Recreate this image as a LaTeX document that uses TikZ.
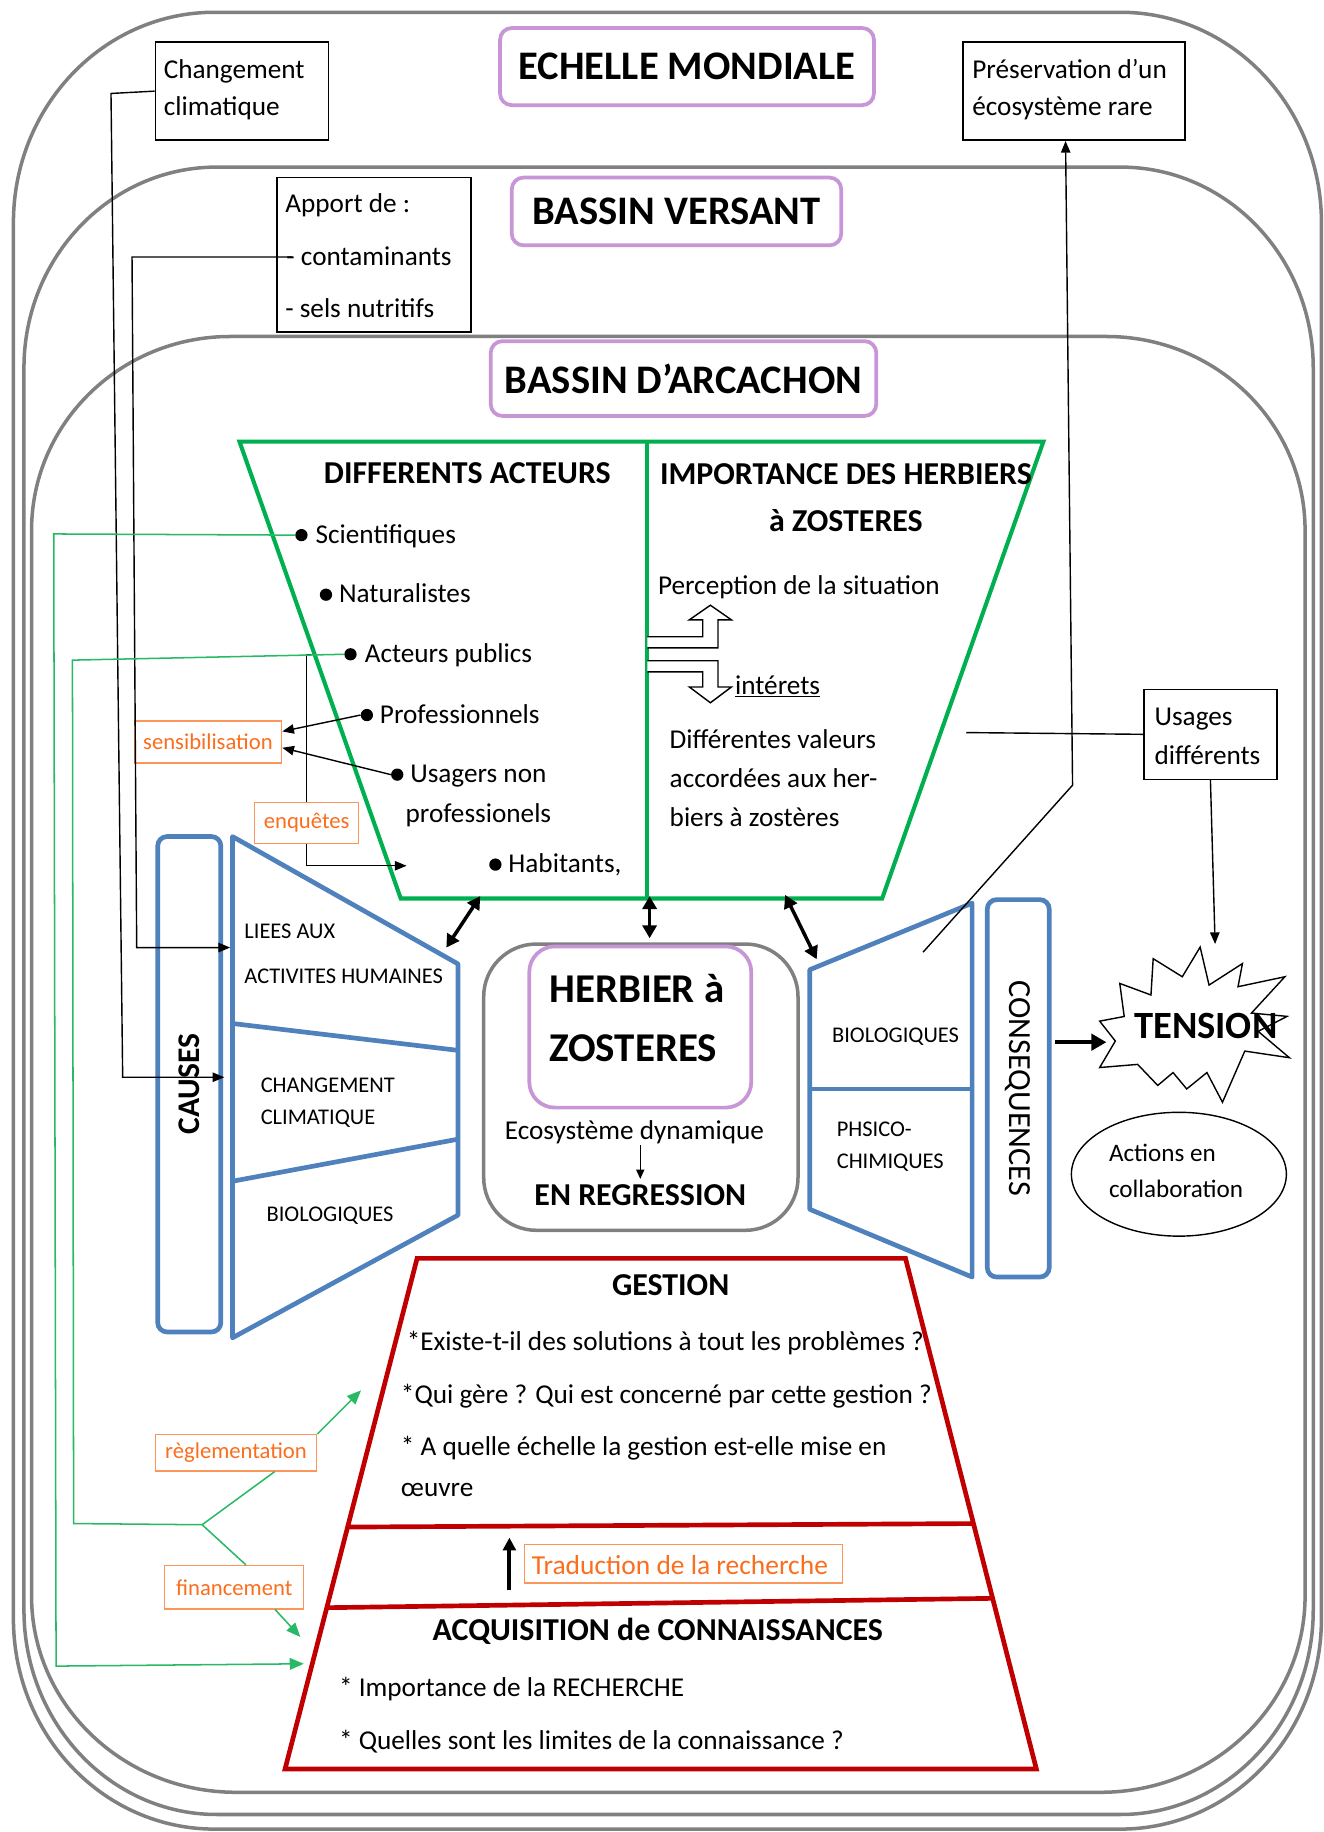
\documentclass[tikz,border=0pt]{standalone}
\usepackage{fontspec}
\setmainfont{Carlito}
\usetikzlibrary{arrows.meta,shapes.geometric,calc}
\definecolor{framegray}{RGB}{128,128,128}
\definecolor{titlepurple}{RGB}{200,150,215}
\definecolor{acgreen}{RGB}{0,176,80}
\definecolor{thingreen}{RGB}{40,185,100}
\definecolor{cblue}{RGB}{79,129,189}
\definecolor{gred}{RGB}{192,0,0}
\definecolor{orng}{RGB}{250,110,30}
\definecolor{orngbox}{RGB}{250,150,90}
\begin{document}
\begin{tikzpicture}[x=1pt,y=-1pt,
 gframe/.style={draw=framegray, line width=3pt},
 titlebox/.style={draw=titlepurple, line width=3.2pt, fill=white, rounded corners=10pt, font=\fontsize{34.7pt}{38pt}\selectfont\bfseries, inner sep=0pt},
 blackbox/.style={draw=black, line width=1.3pt, fill=white, inner sep=0pt},
 tbody/.style={font=\fontsize{23.3pt}{27pt}\selectfont, yshift=-7pt},
 tw/.style={inner sep=0pt, anchor=base west},
 tc/.style={inner sep=0pt, anchor=base},
 tsmall/.style={font=\fontsize{19.2pt}{22pt}\selectfont, yshift=-6.1pt},
 thead/.style={font=\fontsize{27.3pt}{30pt}\selectfont\bfseries, yshift=-8.7pt},
 tbig/.style={font=\fontsize{35pt}{38pt}\selectfont\bfseries, yshift=-11.2pt},
 olabel/.style={draw=orngbox, line width=1.2pt, text=orng, inner sep=0pt, font=\fontsize{19.4pt}{22pt}\selectfont},
 gline/.style={draw=thingreen, line width=1.3pt},
 garrow/.style={gline, -{Triangle[length=12pt,width=10pt]}},
 barrow/.style={draw=black, line width=1.2pt, -{Triangle[length=10pt,width=8pt]}},
 dblarrow/.style={draw=black, line width=3pt, {Triangle[length=11pt,width=12pt]}-{Triangle[length=11pt,width=12pt]}},
 bluel/.style={draw=cblue, line width=4pt, line join=round},
 redl/.style={draw=gred, line width=4pt},
 greenl/.style={draw=acgreen, line width=3.5pt},
 bullet/.style={circle, fill=black, inner sep=0pt, minimum size=10.5pt},
]
\useasboundingbox (0,0) rectangle (1133,1568);
\fill[white] (0,0) rectangle (1133,1568);

% ---------- nested frames ----------
% F1: x 11.5..1131, y 10.5..1565.5
\draw[gframe] (11.5,190.5) arc[start angle=180,end angle=90,x radius=172pt,y radius=180pt] -- (959,10.5)
  arc[start angle=90,end angle=0,x radius=172pt,y radius=180pt] -- (1131,1385.5)
  arc[start angle=0,end angle=-90,x radius=172pt,y radius=180pt] -- (183.5,1565.5)
  arc[start angle=-90,end angle=-180,x radius=172pt,y radius=180pt] -- cycle;
% F2: x 20.5..1124, y 143..1553
\draw[gframe] (20.5,315) arc[start angle=180,end angle=90,x radius=165pt,y radius=172pt] -- (959,143)
  arc[start angle=90,end angle=0,x radius=165pt,y radius=172pt] -- (1124,1378)
  arc[start angle=0,end angle=-90,x radius=165pt,y radius=175pt] -- (185.5,1553)
  arc[start angle=-90,end angle=-180,x radius=165pt,y radius=175pt] -- cycle;
% F3: x 27..1117, y 288..1534
\draw[gframe] (27,454) arc[start angle=180,end angle=90,x radius=170pt,y radius=166pt] -- (947,288)
  arc[start angle=90,end angle=0,x radius=170pt,y radius=166pt] -- (1117,1366)
  arc[start angle=0,end angle=-90,x radius=175pt,y radius=168pt] -- (202,1534)
  arc[start angle=-90,end angle=-180,x radius=175pt,y radius=168pt] -- cycle;

% ---------- titles ----------
\node[titlebox, minimum width=320pt, minimum height=66pt] (mondiale) at (588,57) {ECHELLE MONDIALE};
\node[titlebox, minimum width=282pt, minimum height=58pt] (versant) at (579,181) {BASSIN VERSANT};
\node[titlebox, minimum width=330pt, minimum height=64pt] (arcachon) at (585,324) {BASSIN D’ARCACHON};

% ---------- black boxes ----------
\node[blackbox, minimum width=148pt, minimum height=84pt] (cc) at (207,78) {};
\node[tw, tbody] (cct1) at (140,60) {Changement};
\node[tw, tbody] (cct2) at (140,92) {climatique};
\node[blackbox, minimum width=190pt, minimum height=84pt] (pres) at (919,78) {};
\node[tw, tbody] (prt1) at (832,60) {Préservation d’un};
\node[tw, tbody] (prt2) at (832,92) {écosystème rare};
\node[blackbox, minimum width=166pt, minimum height=132pt] (apport) at (320,218) {};
\node[tw, tbody] (ap1) at (244,175) {Apport de :};
\node[tw, tbody] (ap2) at (245,220) {- contaminants};
\node[tw, tbody] (ap3) at (244,265) {- sels nutritifs};
\coordinate (contdash) at (250,220);
\node[blackbox, minimum width=114pt, minimum height=77pt] (usages) at (1036,628.5) {};
\node[tw, tbody] (us1) at (988,614) {Usages};
\node[tw, tbody] (us2) at (988,647) {différents};

% ---------- green trapezoid ----------
\coordinate (g1) at (205,378); \coordinate (g2) at (893,378);
\coordinate (g3) at (755,769); \coordinate (g4) at (343,769);
\coordinate (gm1) at (554,378); \coordinate (gm2) at (554,769);
\draw[greenl] (g1) -- (g2) -- (g3) -- (g4) -- cycle;
\draw[greenl] (gm1) -- (gm2);

\node[tc, thead] (acteurs) at (400,405) {DIFFERENTS ACTEURS};
\node[tc, thead] (impo1) at (724,406) {IMPORTANCE DES HERBIERS};
\node[tc, thead] (impo2) at (724,446) {à ZOSTERES};

\node[bullet] (bsci) at (258,458) {};
\node[bullet] (bnat) at (279,509) {};
\node[bullet] (bpub) at (300,560) {};
\node[bullet] (bpro) at (314,612) {};
\node[bullet] (busa) at (340,663) {};
\node[bullet] (bhab) at (424,740) {};
\node[tw, tbody] (tsci) at (270,458) {Scientifiques};
\node[tw, tbody] (tnat) at (290,509) {Naturalistes};
\node[tw, tbody] (tpub) at (312,560) {Acteurs publics};
\node[tw, tbody] (tpro) at (325,612) {Professionnels};
\node[tw, tbody] (tusa) at (351,663) {Usagers non};
\node[tw, tbody] (tusb) at (347,697) {professionels};
\node[tw, tbody] (thab) at (435,740) {Habitants,};

\node[tw, tbody] (perc) at (563,502) {Perception de la situation};
\node[tw, tbody] (inter) at (629,587) {\underline{intérets}};
\node[tw, tbody] (val1) at (573,634) {Différentes valeurs};
\node[tw, tbody] (val2) at (573,667) {accordées aux her-};
\node[tw, tbody] (val3) at (573,700) {biers à zostères};

% outline bent arrows
\draw[line width=1.2pt, fill=white, line join=miter] (554,545) -- (601.5,545) -- (601.5,530.5) -- (590,530.5) -- (608,518) -- (626,530.5) -- (614.5,530.5) -- (614.5,554.5) -- (554,554.5);
\draw[line width=1.2pt, fill=white, line join=miter] (554,565.5) -- (614.5,565.5) -- (614.5,588) -- (626,588) -- (608,601.5) -- (590,588) -- (601.5,588) -- (601.5,575) -- (554,575);

% ---------- orange labels ----------
\node[olabel, minimum width=126pt, minimum height=36pt] (sens) at (178,635) {sensibilisation};
\node[olabel, minimum width=89pt, minimum height=35pt] (enq) at (262.5,704.5) {enquêtes};
\node[olabel, minimum width=138pt, minimum height=31pt] (regl) at (202,1243.5) {règlementation};
\node[olabel, minimum width=119pt, minimum height=37pt] (fin) at (200.5,1358.5) {financement};

% ---------- CAUSES ----------
\node[draw=cblue, line width=4pt, rounded corners=8pt, minimum width=54pt, minimum height=424pt, inner sep=0pt] (causes) at (162,928) {};
\node[rotate=90, inner sep=0pt, font=\fontsize{27pt}{30pt}\selectfont\bfseries] (causest) at (causes) {CAUSES};
\coordinate (c1) at (199,716); \coordinate (c2) at (392,825);
\coordinate (c3) at (392,1040); \coordinate (c4) at (199,1145);
\draw[bluel] (c1) -- (c2) -- (c3) -- (c4) -- cycle;
\draw[bluel] (199,876) -- (392,899);
\draw[bluel] (199,1011) -- (392,975);
\node[tw, tsmall] (ca1) at (209,797) {LIEES AUX};
\node[tw, tsmall] (ca2) at (209,836) {ACTIVITES HUMAINES};
\node[tw, tsmall] (ca3) at (223,929) {CHANGEMENT};
\node[tw, tsmall] (ca4) at (223,956) {CLIMATIQUE};
\node[tw, tsmall] (ca5) at (228,1039) {BIOLOGIQUES};

% ---------- CONSEQUENCES ----------
\coordinate (d1) at (693,830); \coordinate (d2) at (832,773);
\coordinate (d3) at (832,1093); \coordinate (d4) at (693,1035);
\draw[bluel] (d1) -- (d2) -- (d3) -- (d4) -- cycle;
\draw[bluel] (693,932) -- (832,932);
\node[tw, tsmall] (co1) at (712,886) {BIOLOGIQUES};
\node[tw, tsmall] (co2) at (716,967) {PHSICO-};
\node[tw, tsmall] (co3) at (716,994) {CHIMIQUES};
\node[draw=cblue, line width=4pt, rounded corners=8pt, minimum width=53pt, minimum height=323pt, inner sep=0pt] (conseq) at (871.5,931.5) {};
\node[rotate=-90, inner sep=0pt, font=\fontsize{27.6pt}{30pt}\selectfont] (conseqt) at (conseq) {CONSEQUENCES};

% ---------- HERBIER ----------
\node[draw=framegray, line width=3pt, rounded corners=45pt, minimum width=269pt, minimum height=245pt, inner sep=0pt] (herbier) at (548.5,930.5) {};
\node[draw=titlepurple, line width=3.2pt, rounded corners=22pt, minimum width=190pt, minimum height=138pt, inner sep=0pt, fill=white] (herbin) at (548,879) {};
\node[tw, tbig] (hb1) at (470,847) {HERBIER à};
\node[tw, tbig] (hb2) at (470,897) {ZOSTERES};
\node[tc, tbody] (eco) at (543,968) {Ecosystème dynamique};
\node[tc, thead] (regr) at (548,1023) {EN REGRESSION};
\draw[line width=1pt, -{Triangle[length=8pt,width=7pt]}] (548,980) -- (548,1009);

% ---------- TENSION ----------
\draw[line width=1.2pt, fill=white, line join=miter]
 (1027.2,810.6) -- (1034.8,843.1) -- (1063.4,824.7) -- (1059.6,844.5) -- (1099.7,836) -- (1071.1,867.1)
 -- (1101.6,869.9) -- (1076.8,882.7) -- (1103.6,905.3) -- (1065.4,899.6) -- (1046.3,943.4) -- (1033,918)
 -- (1015.7,932) -- (1004,918) -- (990.9,929) -- (973.7,911) -- (941.2,913.7) -- (954.6,891)
 -- (941.2,874) -- (962.2,870) -- (958.4,841.7) -- (985.1,851.6) -- (987,820.5) -- (1011.9,836) -- cycle;
\node[tc, font=\fontsize{33pt}{36pt}\selectfont\bfseries, yshift=-10.6pt] (tension) at (1032,878) {TENSION};
\coordinate (tenstop) at (1040,808);
\coordinate (conout) at (903,892);
\coordinate (tensin) at (947,892);
\draw[line width=3.5pt, -{Triangle[length=13pt,width=14pt]}] (conout) -- (tensin);

\node[draw, ellipse, line width=1.2pt, minimum width=184pt, minimum height=106pt, inner sep=0pt] (actions) at (1009,1005) {};
\node[tw, font=\fontsize{21.5pt}{26pt}\selectfont, yshift=-6.5pt] (act1) at (949,988) {Actions en};
\node[tw, font=\fontsize{21.5pt}{26pt}\selectfont, yshift=-6.5pt] (act2) at (949,1018) {collaboration};

% ---------- red trapezoid ----------
\coordinate (r1) at (357,1077); \coordinate (r2) at (775,1077);
\coordinate (r3) at (887,1514); \coordinate (r4) at (244,1514);
\draw[redl, line join=miter] (r1) -- (r2) -- (r3) -- (r4) -- cycle;
\draw[redl] (297.5,1307) -- (833.2,1304);
\draw[redl] (279.7,1376) -- (849.6,1368);
\node[tc, thead] (gest) at (574,1100) {GESTION};
\node[tw, tbody] (q1) at (348,1149) {*Existe-t-il des solutions à tout les problèmes ?};
\node[tw, tbody] (q2) at (343,1194) {*Qui gère ? Qui est concerné par cette gestion ?};
\node[tw, tbody] (q3) at (343,1239) {* A quelle échelle la gestion est-elle mise en};
\node[tw, tbody] (q4) at (343,1274) {œuvre};
\node[olabel, minimum width=272pt, minimum height=33pt] (trad) at (585,1338.5) {};
\node[tw, tbody, text=orng, font=\fontsize{23.5pt}{27pt}\selectfont] (tradt) at (455,1341) {Traduction de la recherche};
\draw[line width=3.5pt, -{Triangle[length=11pt,width=11pt]}] (436,1361) -- (436,1316);
\node[tc, thead] (acq) at (563,1395) {ACQUISITION de CONNAISSANCES};
\node[tw, tbody] (k1) at (290,1445) {* Importance de la RECHERCHE};
\node[tw, tbody] (k2) at (290,1490) {* Quelles sont les limites de la connaissance ?};

% ---------- black connectors ----------
\coordinate (caus1) at (197,811);
\coordinate (caus2) at (192,922);
\draw[barrow] (cc.west) -- (95,80) -- (105,922) -- (caus2);
\draw[barrow] (contdash) -- (113,220) -- (117,811) -- (caus1);
\draw[barrow] (bpro.west) -- ($(sens.east)+(0,-9)$);
\draw[barrow] (busa.west) -- ($(sens.east)+(0,5)$);
\draw[line width=1.2pt] (bpub.west) -| (enq.north);
\coordinate (habin) at (348,741);
\draw[barrow] (enq.south) |- (habin);
\coordinate (ctop) at (790,815);
\draw[barrow] (ctop) -- (918,672) -- ($(pres.south)+(-7,0)$);
\coordinate (usfree) at (827,627);
\draw[line width=1.2pt] (usages.west) -- (usfree);
\draw[barrow] (usages.south) -- (tenstop);

% double arrows
\draw[dblarrow] (382,811) -- (411,767);
\draw[dblarrow] (556,767) -- (556,803);
\draw[dblarrow] (672,766) -- (699,821);

% ---------- green connectors ----------
\coordinate (acqin) at (260,1424);
\coordinate (split) at (173,1305);
\coordinate (gestin) at (309,1190);
\coordinate (acqin2) at (257,1401);
\draw[garrow] (bsci.west) -- (46,457) -- (48,1426) -- (acqin);
\draw[gline] (bpub.west) -- (62,565) -- (63,1304) -- (split);
\draw[gline] (split) -- ($(regl.south)+(33,0)$);
\draw[gline] (split) -- ($(fin.north)+(10,0)$);
\draw[garrow] (regl.north east) -- (gestin);
\draw[garrow] ($(fin.south)+(35,0)$) -- (acqin2);
\end{tikzpicture}
\end{document}
